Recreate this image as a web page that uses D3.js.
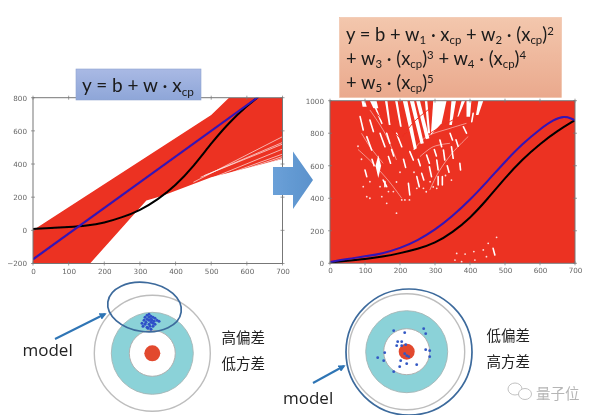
<!DOCTYPE html>
<html><head><meta charset="utf-8">
<script src="https://cdn.jsdelivr.net/npm/d3@7/dist/d3.min.js"></script>
<style>html,body{margin:0;background:#fff}svg{display:block;font-family:"Lato",sans-serif}</style>
</head><body><svg id="c" width="600" height="419"></svg>
<script>
// ---- data ----
const xTicks=[0,100,200,300,400,500,600,700];
const leftYTicks=[-200,0,200,400,600,800];
const rightYTicks=[0,200,400,600,800,1000];
// left chart: red band outline
const bandHi=[[0,0],[500,695],[550,800],[700,800]];
const bandLo=[[700,430],[500,320],[365,210],[335,190],[318,180],[160,-200],[0,-200]];
const fanEnds=[[450,290,700,565],[470,320,700,530],[480,330,700,520],[440,260,700,490],[420,240,700,460],[410,235,700,445],[400,225,700,435]];
// left curves
const leftBlue=[[0,-175],[700,910]];
const leftBlack=[[0,8],[50,14],[100,20],[150,28],[200,45],[250,78],[300,120],[350,185],[400,270],[450,385],[500,525],[550,650],[600,750],[640,820]];
// right curves
const rightBlue=[[0,8],[50,28],[100,42],[150,60],[200,92],[250,140],[300,205],[350,290],[400,390],[450,505],[500,625],[550,735],[600,825],[640,885],[670,905],[690,890],[700,880]];
const rightBlack=[[0,5],[50,15],[100,25],[150,40],[200,62],[250,88],[300,123],[350,190],[400,277],[450,395],[500,525],[550,640],[600,735],[650,815],[700,880]];
// right chart: white gaps among the red lines, in data units
const gapBands=[
 [[295,1000],[333,1000],[319,861],[288,789]],
 [[208,1000],[221,1000],[248,707],[240,697]],
 [[228,1000],[240,1000],[268,738],[259,734]],
 [[246,1000],[257,1000],[284,769],[274,763]],
 [[271,1000],[278,1000],[286,800],[280,800]],
 [[347,1000],[360,1000],[348,851],[341,851]],
 [[376,1000],[386,1000],[367,902],[364,902]],
 [[186,1000],[193,1000],[205,840],[200,840]],
 [[157,1000],[164,1000],[173,851],[168,851]],
 [[114,1000],[133,1000],[138,953],[124,953]],
 [[90,1000],[100,1000],[105,963],[93,963]],
 [[424,1000],[438,1000],[424,912],[417,912]],
 [[390,1000],[404,1000],[400,902],[390,902]],
 [[138,665],[146,600],[138,525],[130,600]]];
const gapSegments=[
 [105,779,119,697],[86,902,95,820],[114,881,124,810],[129,963,148,861],[143,800,157,717],
 [162,800,171,738],[190,800,205,717],[100,574,105,533],[152,512,162,471],[167,656,173,615],
 [224,492,228,420],[248,533,255,471],[262,553,268,512],[284,594,290,533],[305,635,309,574],
 [324,697,328,635],[347,717,352,646],[371,615,373,574],[228,687,238,635],[276,666,284,615],
 [314,758,319,717],[343,800,350,758],[381,840,390,800],[409,922,405,871],[466,92,471,51],
 [309,533,309,482],[321,533,321,482],[157,502,157,471],
 [120,640,126,600],[176,700,182,660],[210,640,216,590],[252,640,258,600],[298,700,304,660],[335,600,340,560],[360,760,366,720]];
const gapDots=[[114,400],[190,308],[214,390],[227,390],[143,471],[181,441],[286,502],[305,461],[167,441],[248,461],[267,461],[347,512],[357,20],[376,10],[386,57],[411,72],[447,41],[452,123],[476,160],[414,20],[362,61],[438,82],[205,390],[105,410],[95,471],[114,502],[148,410],[162,369],[200,560],[240,560],[275,440],[190,500],[90,640],[80,720],[330,540],[295,470]];
const gapArcs=[
 [[238,697],[276,779],[343,830],[390,861]],
 [[257,656],[295,717],[343,738]],
 [[90,800],[114,717],[152,615]],
 [[114,943],[157,800],[190,635]],
 [[80,700],[120,620],[170,500],[205,400]],
 [[395,780],[350,680],[310,560],[285,450]]];
const redArcs=[[[286,800],[333,861],[371,902]],[[208,780],[240,870],[290,960]],[[120,960],[150,880],[200,770]]];
// dart board: dot offsets from the point they gather around
const cluster=[[-8,1],[-7,4],[-6,-2],[-5,-5],[-5,2],[-3,-7],[-3,-3],[-4,0],[-3,5],[-1,-8],[-1,-5],[-1,-2],[-1,2],[-2,6],[1,-6],[1,-3],[1,0],[0,4],[1,7],[3,-5],[2,-2],[3,1],[3,4],[5,-4],[4,-1],[5,2],[7,-2],[9,-1]];
const scatter=[[-13,-21],[-2,-19],[17,-23],[19,-18],[-9,-10],[-5,-10],[-10,-6],[-5,-6],[-1,-7],[19,-2],[23,-1],[23,5],[-22,1],[-29,6],[-23,9],[-2,2],[0,4],[2,5],[-6,9],[0,12],[10,13],[-7,15],[-13,20]];
const leftFormula=[["y = b + w · x"],["cp","sub"]];

const svg=d3.select("#c");
const defs=svg.append("defs");
defs.append("filter").attr("id","b").attr("x","0").attr("y","0").attr("width","100%").attr("height","100%").append("feGaussianBlur").attr("stdDeviation",.45);
defs.append("filter").attr("id","b2").attr("x","-5%").attr("y","-5%").attr("width","110%").attr("height","110%").append("feGaussianBlur").attr("stdDeviation",.5);
const grad=(id,a,b,vert)=>{const g=defs.append("linearGradient").attr("id",id).attr("x2",vert?0:1).attr("y2",vert?1:0);g.append("stop").attr("offset",0).attr("stop-color",a);g.append("stop").attr("offset",1).attr("stop-color",b);};
grad("gb","#a9b9e4","#8ea6d8",true);
grad("go","#f3c7ad","#eaa98d",true);
grad("ga","#6aa0d8","#5b92cc",false);
const root=svg.append("g").attr("filter","url(#b)");
const RED="#ec3021";

function frame(g,x,y,yTicks){
  const c="#777";
  const xa=g.append("g").attr("transform",`translate(0,${y.range()[0]})`).call(d3.axisBottom(x).tickValues(xTicks).tickSize(0).tickPadding(5));
  const ya=g.append("g").attr("transform",`translate(${x.range()[0]},0)`).call(d3.axisLeft(y).tickValues(yTicks).tickSize(0).tickPadding(6).tickFormat(d3.format("d")));
  [xa,ya].forEach(a=>{a.select(".domain").remove();a.selectAll("text").attr("fill","#666").attr("font-size",7.2).attr("font-family","DejaVu Sans");});
  xTicks.forEach(t=>{[y.range()[0],y.range()[1]].forEach(p=>g.append("line").attr("x1",x(t)).attr("x2",x(t)).attr("y1",p-2).attr("y2",p+2).attr("stroke",c).attr("stroke-width",.7));});
  yTicks.forEach(t=>{[x.range()[0],x.range()[1]].forEach(p=>g.append("line").attr("y1",y(t)).attr("y2",y(t)).attr("x1",p-2).attr("x2",p+2).attr("stroke",c).attr("stroke-width",.7));});
  g.append("rect").attr("x",x.range()[0]).attr("y",y.range()[1]).attr("width",x.range()[1]-x.range()[0]).attr("height",y.range()[0]-y.range()[1]).attr("fill","none").attr("stroke",c).attr("stroke-width",1);
}
const line=(x,y,curve)=>d3.line().x(d=>x(d[0])).y(d=>y(d[1])).curve(curve||d3.curveLinear);

// LEFT
{
 const x=d3.scaleLinear([0,700],[33,282.5]), y=d3.scaleLinear([-200,800],[263.5,97.7]);
 const g=root.append("g");
 defs.append("clipPath").attr("id","cl").append("rect").attr("x",33).attr("y",97.7).attr("width",249.5).attr("height",165.8);
 const p=g.append("g").attr("clip-path","url(#cl)");
 p.append("path").attr("d",line(x,y)(bandHi.concat(bandLo))+"Z").attr("fill",RED);
 fanEnds.forEach(f=>p.append("line").attr("x1",x(f[0])).attr("y1",y(f[1])).attr("x2",x(f[2])).attr("y2",y(f[3])).attr("stroke","#fff").attr("stroke-opacity",.8).attr("stroke-width",.8));
 p.append("path").attr("d",line(x,y,d3.curveBasis)(leftBlack)).attr("fill","none").attr("stroke","#000").attr("stroke-width",2);
 p.append("path").attr("d",line(x,y)(leftBlue)).attr("fill","none").attr("stroke","#3113b8").attr("stroke-width",2);
 frame(g,x,y,leftYTicks);
}
// RIGHT
{
 const x=d3.scaleLinear([0,700],[330,575]), y=d3.scaleLinear([0,1000],[263.3,100.7]);
 const g=root.append("g");
 defs.append("clipPath").attr("id","cr").append("rect").attr("x",330).attr("y",100.7).attr("width",245).attr("height",162.6);
 const p=g.append("g").attr("clip-path","url(#cr)");
 p.append("rect").attr("x",330).attr("y",100.7).attr("width",245).attr("height",162.6).attr("fill",RED);
 const gaps=p.append("g").attr("filter","url(#b2)");
 gapBands.forEach(b=>gaps.append("path").attr("d",line(x,y)(b)+"Z").attr("fill","#fff"));
 gapSegments.forEach(s=>gaps.append("line").attr("x1",x(s[0])).attr("y1",y(s[1])).attr("x2",x(s[2])).attr("y2",y(s[3])).attr("stroke","#fff").attr("stroke-width",1.6).attr("stroke-linecap","round"));
 gapDots.forEach(d=>gaps.append("circle").attr("cx",x(d[0])).attr("cy",y(d[1])).attr("r",.9).attr("fill","#fff").attr("fill-opacity",.85));
 gapArcs.forEach(a=>gaps.append("path").attr("d",line(x,y,d3.curveCatmullRom)(a)).attr("fill","none").attr("stroke","#fff").attr("stroke-opacity",.7).attr("stroke-width",.7));
 redArcs.forEach(a=>gaps.append("path").attr("d",line(x,y,d3.curveCatmullRom)(a)).attr("fill","none").attr("stroke",RED).attr("stroke-width",1));
 p.append("path").attr("d",line(x,y,d3.curveBasis)(rightBlack)).attr("fill","none").attr("stroke","#000").attr("stroke-width",2);
 p.append("path").attr("d",line(x,y,d3.curveBasis)(rightBlue)).attr("fill","none").attr("stroke","#3113b8").attr("stroke-width",2);
 frame(g,x,y,rightYTicks);
}
// formula boxes
root.append("rect").attr("x",76).attr("y",69).attr("width",125).attr("height",31).attr("fill","url(#gb)").attr("stroke","#8fa3d0").attr("stroke-width",.6);
const formula=(x,y,parts,size)=>{const t=root.append("text").attr("x",x).attr("y",y).attr("font-family","Lato").attr("font-size",size).attr("fill","#1a1a1a");
 parts.forEach(([s,k])=>{const ts=t.append("tspan").text(s);
   if(k==="sub")ts.attr("font-size",size*.62).attr("dy",size*.2);
   else if(k==="sup")ts.attr("font-size",size*.62).attr("dy",-size*.3);
   else if(k==="afterSub")ts.attr("dy",-size*.2);
   else if(k==="afterSup")ts.attr("dy",size*.3);});};
formula(82,92,leftFormula,19);
root.append("rect").attr("x",339.5).attr("y",17.5).attr("width",222).attr("height",80).attr("fill","url(#go)").attr("stroke","#eebfa3").attr("stroke-width",.6);
formula(346,40.5,[["y = b + w"],["1","sub"],[" · x","afterSub"],["cp","sub"],[" + w","afterSub"],["2","sub"],[" · (x","afterSub"],["cp","sub"],[")","afterSub"],["2","sup"]],18.4);
formula(346,64.5,[["+ w"],["3","sub"],[" · (x","afterSub"],["cp","sub"],[")","afterSub"],["3","sup"],[" + w","afterSup"],["4","sub"],[" · (x","afterSub"],["cp","sub"],[")","afterSub"],["4","sup"]],18.4);
formula(346,88.5,[["+ w"],["5","sub"],[" · (x","afterSub"],["cp","sub"],[")","afterSub"],["5","sup"]],18.4);
// big arrow
root.append("path").attr("d",d3.line()([[273,167],[293,167],[293,151.5],[313,180],[293,209],[293,195],[273,195]])+"Z").attr("fill","url(#ga)");
// targets
function target(cx,cy){
 const g=root.append("g");
 g.append("circle").attr("cx",cx).attr("cy",cy).attr("r",58).attr("fill","#fff").attr("stroke","#bdbdbd").attr("stroke-width",1.4);
 g.append("circle").attr("cx",cx).attr("cy",cy).attr("r",41).attr("fill","#8bd2d8").attr("stroke","#a5b5b5").attr("stroke-width",.9);
 g.append("circle").attr("cx",cx).attr("cy",cy).attr("r",23).attr("fill","#fff").attr("stroke","#b0b0b0").attr("stroke-width",1);
 g.append("circle").attr("cx",cx).attr("cy",cy).attr("r",8).attr("fill","#e2492f");
}
target(152.3,353.3);
target(406.7,351.7);
root.append("g").selectAll("circle").data(cluster).join("circle").attr("cx",d=>150+d[0]).attr("cy",d=>322.3+d[1]).attr("r",1.5).attr("fill","#2e50c8");
root.append("g").selectAll("circle").data(scatter).join("circle").attr("cx",d=>406.7+d[0]).attr("cy",d=>351.7+d[1]).attr("r",1.4).attr("fill","#3358c4");
// model ellipse / ring
root.append("ellipse").attr("cx",144.5).attr("cy",307).attr("rx",37).attr("ry",24.5).attr("transform","rotate(8 144.5 307)").attr("fill","none").attr("stroke","#3c6a9c").attr("stroke-width",1.7);
root.append("circle").attr("cx",409).attr("cy",352).attr("r",63).attr("fill","none").attr("stroke","#3c6a9c").attr("stroke-width",1.7);
// arrows
defs.append("marker").attr("id","ah").attr("viewBox","0 0 8 8").attr("refX",6).attr("refY",4).attr("markerWidth",3.6).attr("markerHeight",3.6).attr("orient","auto").append("path").attr("d","M0,0L8,4L0,8Z").attr("fill","#2f75b5");
root.append("line").attr("x1",55).attr("y1",339).attr("x2",105).attr("y2",314).attr("stroke","#2f75b5").attr("stroke-width",2).attr("marker-end","url(#ah)");
root.append("line").attr("x1",313).attr("y1",383).attr("x2",344).attr("y2",366).attr("stroke","#2f75b5").attr("stroke-width",2).attr("marker-end","url(#ah)");
// labels
const lab=(x,y,s,fs,f,c)=>root.append("text").attr("x",x).attr("y",y).text(s).attr("font-size",fs).attr("font-family",f||"Open Sans").attr("fill",c||"#222");
lab(22.5,356,"model",17);
lab(283,404,"model",17);
const CJK="Noto Sans CJK SC";
lab(221.5,342.7,"高偏差",14.5,CJK);
lab(221.5,369,"低方差",14.5,CJK);
lab(486.5,340.7,"低偏差",14.5,CJK);
lab(486.5,367,"高方差",14.5,CJK);
lab(536,398.7,"量子位",14.5,CJK,"#b5b5b5");
// watermark icon
const w=root.append("g").attr("fill","#fff").attr("stroke","#bbb").attr("stroke-width",.9);
w.append("ellipse").attr("cx",515).attr("cy",389).attr("rx",7).attr("ry",6);
w.append("ellipse").attr("cx",525).attr("cy",394).attr("rx",6.5).attr("ry",5.5);
</script></body></html>
